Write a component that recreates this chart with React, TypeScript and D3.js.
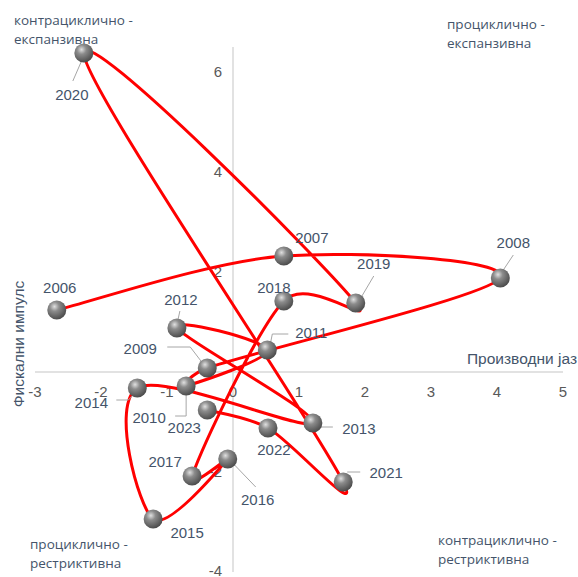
import React, { useEffect, useRef } from 'react'
import * as d3 from 'd3'

// output gap (x) and fiscal impulse (y) by year
const years = [2006, 2007, 2008, 2009, 2010, 2011, 2012, 2013, 2014, 2015, 2016, 2017, 2018, 2019, 2020, 2021, 2022, 2023]
const outputGap = [-2.67, 0.77, 4.05, -0.39, -0.71, 0.52, -0.85, 1.21, -1.45, -1.21, -0.08, -0.62, 0.77, 1.86, -2.26, 1.67, 0.53, -0.39]
const fiscalImpulse = [1.24, 2.32, 1.88, 0.08, -0.28, 0.44, 0.88, -1.02, -0.32, -2.94, -1.74, -2.08, 1.42, 1.38, 6.38, -2.2, -1.12, -0.76]

const xTicks = [-3, -2, -1, 0, 1, 2, 3, 4, 5]
const yTicks = [-4, -2, 2, 4, 6]

// label placement relative to each point: [dx, dy, leader polyline]
const labelLayout: [number, number, number[][]][] = [
  [3, -17, []],
  [28, -13, []],
  [13, -30, [[3, -8], [13, -23]]],
  [-67, -14, [[-40, -21], [-17, -21], [-4, -4]]],
  [-37, 37, [[0, 8], [0, 30], [-11, 30]]],
  [44, -12, [[3, -6], [5, -16], [21, -16]]],
  [4, -23, [[3, -17], [1, -8]]],
  [46, 11, [[7, 4], [20, 4]]],
  [-46, 20, [[-21, 12], [-9, 12], [-3, 6]]],
  [34, 19, []],
  [30, 46, [[4, 3], [28, 28]]],
  [-27, -9, []],
  [-10, -8, []],
  [18, -34, [[18, -27], [5, -5]]],
  [-12, 47, [[-1, 5], [-11, 28]]],
  [43, -4, [[4, -10], [17, -10]]],
  [6, 27, []],
  [-23, 23, []],
]

const W = 578
const H = 577
const textColor = '#44546A'
const quadFont = '"Open Sans", "Noto Sans", sans-serif'
const numFont = '"Liberation Sans", Arial, sans-serif'

// spreadsheet-style smoothed line: bezier with tangents (p[i+1]-p[i-1])/6, capped at half the segment
function smoothPath(p: [number, number][]) {
  const path = d3.path()
  path.moveTo(p[0][0], p[0][1])
  for (let i = 0; i < p.length - 1; i++) {
    const p0 = p[Math.max(i - 1, 0)]
    const p1 = p[i]
    const p2 = p[i + 1]
    const p3 = p[Math.min(i + 2, p.length - 1)]
    const seg = Math.hypot(p2[0] - p1[0], p2[1] - p1[1])
    const cap = (vx: number, vy: number) => {
      const l = Math.hypot(vx, vy)
      const k = l > seg / 2 ? seg / 2 / l : 1
      return [vx * k, vy * k]
    }
    const a = cap((p2[0] - p0[0]) / 6, (p2[1] - p0[1]) / 6)
    const b = cap((p3[0] - p1[0]) / 6, (p3[1] - p1[1]) / 6)
    path.bezierCurveTo(p1[0] + a[0], p1[1] + a[1], p2[0] - b[0], p2[1] - b[1], p2[0], p2[1])
  }
  return path.toString()
}

const App = () => {
  const ref = useRef<SVGSVGElement>(null)

  useEffect(() => {
    const svg = d3.select(ref.current)
    svg.selectAll('*').remove()

    const x = d3.scaleLinear().domain([-3, 5]).range([35, 563])
    const y = d3.scaleLinear().domain([-4, 6.5]).range([572, 47])

    const defs = svg.append('defs')
    const grad = defs.append('radialGradient')
      .attr('id', 'ball')
      .attr('cx', '38%').attr('cy', '32%').attr('r', '70%')
    grad.append('stop').attr('offset', '0%').attr('stop-color', '#e0e0e0')
    grad.append('stop').attr('offset', '35%').attr('stop-color', '#8c8c8c')
    grad.append('stop').attr('offset', '100%').attr('stop-color', '#4a4a4a')

    // axes through the origin
    svg.append('line')
      .attr('x1', x(-3)).attr('x2', x(5))
      .attr('y1', y(0)).attr('y2', y(0))
      .attr('stroke', '#d9d9d9').attr('stroke-width', 1.5)
    svg.append('line')
      .attr('x1', x(0)).attr('x2', x(0))
      .attr('y1', y(6.5)).attr('y2', y(-4))
      .attr('stroke', '#d9d9d9').attr('stroke-width', 1.5)

    svg.selectAll('.xt').data(xTicks).enter().append('text')
      .attr('x', d => x(d)).attr('y', y(0) + 25)
      .attr('text-anchor', 'middle')
      .attr('font-family', numFont).attr('font-size', 15)
      .attr('fill', '#595959')
      .text(d => d)

    svg.selectAll('.yt').data(yTicks).enter().append('text')
      .attr('x', x(0) - 11).attr('y', d => Math.min(y(d) + 5, 576))
      .attr('text-anchor', 'end')
      .attr('font-family', numFont).attr('font-size', 15)
      .attr('fill', '#595959')
      .text(d => d)

    svg.append('text')
      .attr('x', 577).attr('y', y(0) - 8)
      .attr('text-anchor', 'end')
      .attr('font-family', numFont).attr('font-size', 15.5)
      .attr('fill', textColor)
      .text('Производни јаз')

    svg.append('text')
      .attr('transform', `translate(24, 344) rotate(-90)`)
      .attr('text-anchor', 'middle')
      .attr('font-family', numFont).attr('font-size', 15.5)
      .attr('fill', textColor)
      .text('Фискални импулс')

    const quads = [
      [14, 25, 'контрациклично -', 'експанзивна'],
      [447, 29, 'проциклично -', 'експанзивна'],
      [30, 549, 'проциклично -', 'рестриктивна'],
      [438, 545, 'контрациклично -', 'рестриктивна'],
    ]
    quads.forEach(([qx, qy, a, b]) => {
      const t = svg.append('text')
        .attr('font-family', quadFont).attr('font-size', 13.5)
        .attr('fill', textColor)
      t.append('tspan').attr('x', qx).attr('y', qy).text(a as string)
      t.append('tspan').attr('x', qx).attr('y', (qy as number) + 19).text(b as string)
    })

    const pts = years.map((yr, i) => ({ yr, gx: outputGap[i], fy: fiscalImpulse[i], lay: labelLayout[i] }))

    svg.append('path')
      .attr('d', smoothPath(pts.map(p => [x(p.gx), y(p.fy)] as [number, number])))
      .attr('fill', 'none')
      .attr('stroke', '#ff0000')
      .attr('stroke-width', 3)

    // leader lines
    svg.selectAll('.leader').data(pts.filter(p => p.lay[2].length)).enter().append('polyline')
      .attr('points', p => p.lay[2].map(([dx, dy]) => `${x(p.gx) + dx},${y(p.fy) + dy}`).join(' '))
      .attr('fill', 'none')
      .attr('stroke', '#a6a6a6')
      .attr('stroke-width', 1)

    svg.selectAll('.ball').data(pts).enter().append('circle')
      .attr('cx', p => x(p.gx)).attr('cy', p => y(p.fy))
      .attr('r', 9.5)
      .attr('fill', 'url(#ball)')

    svg.selectAll('.lbl').data(pts).enter().append('text')
      .attr('x', p => x(p.gx) + p.lay[0])
      .attr('y', p => y(p.fy) + p.lay[1])
      .attr('text-anchor', 'middle')
      .attr('font-family', numFont).attr('font-size', 15)
      .attr('fill', textColor)
      .text(p => p.yr)
  }, [])

  return <svg ref={ref} width={W} height={H} style={{ position: 'absolute', left: 0, top: 0 }} />
}

export default App
